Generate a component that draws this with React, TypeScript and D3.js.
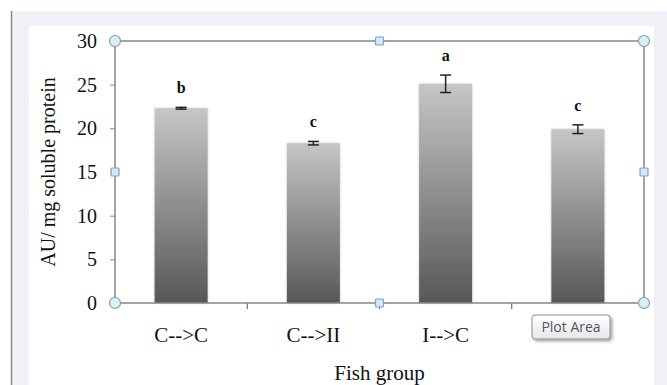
import React, { useEffect, useRef } from 'react';
import * as d3 from 'd3';

const groups = ['C-->C', 'C-->II', 'I-->C', 'C-->C '];
const labels = ['C-->C', 'C-->II', 'I-->C', ''];
const values = [22.3, 18.3, 25.1, 19.9];
const errors = [0.1, 0.2, 1.0, 0.5];
const letters = ['b', 'c', 'a', 'c'];
const yTicks = [0, 5, 10, 15, 20, 25, 30];

const App = () => {
  const ref = useRef<SVGSVGElement>(null);

  useEffect(() => {
    const svg = d3.select(ref.current);
    svg.selectAll('*').remove();
    const W = 667, H = 385;
    const m = { top: 41, right: 23, bottom: 82, left: 115 };
    const cw = W - m.left - m.right;
    const ch = H - m.top - m.bottom;
    const serif = 'Liberation Serif, Times New Roman, serif';

    svg.append('rect').attr('width', W).attr('height', H).attr('fill', '#fff');
    svg.append('rect').attr('x', 12).attr('y', 11).attr('width', W - 12).attr('height', H - 11).attr('fill', '#f0f1f7');
    svg.append('line').attr('x1', 11.5).attr('x2', 11.5).attr('y1', 11).attr('y2', H).attr('stroke', '#8a8a8a').attr('stroke-width', 1.5);
    svg.append('rect').attr('x', 29).attr('y', 26).attr('width', 625).attr('height', H - 26).attr('fill', '#fff');

    const defs = svg.append('defs');
    const grad = defs.append('linearGradient').attr('id', 'barGrad').attr('x1', 0).attr('x2', 0).attr('y1', 0).attr('y2', 1);
    grad.append('stop').attr('offset', '0%').attr('stop-color', '#c6c6c6');
    grad.append('stop').attr('offset', '100%').attr('stop-color', '#575757');
    const sh = defs.append('filter').attr('id', 'sh').attr('x', '-20%').attr('y', '-20%').attr('width', '140%').attr('height', '140%');
    sh.append('feDropShadow').attr('dx', 0).attr('dy', 0).attr('stdDeviation', 1.2).attr('flood-color', '#000').attr('flood-opacity', 0.25);
    const tipGrad = defs.append('linearGradient').attr('id', 'tipGrad').attr('x1', 0).attr('x2', 0).attr('y1', 0).attr('y2', 1);
    tipGrad.append('stop').attr('offset', '0%').attr('stop-color', '#ffffff');
    tipGrad.append('stop').attr('offset', '100%').attr('stop-color', '#e6e6ec');
    const tipSh = defs.append('filter').attr('id', 'tipSh').attr('x', '-20%').attr('y', '-30%').attr('width', '150%').attr('height', '180%');
    tipSh.append('feDropShadow').attr('dx', 2).attr('dy', 2).attr('stdDeviation', 1.5).attr('flood-color', '#000').attr('flood-opacity', 0.35);

    const xb = d3.scaleBand().domain(groups).range([0, cw]);
    const y = d3.scaleLinear().domain([0, 30]).range([ch, 0]);

    const g = svg.append('g').attr('transform', `translate(${m.left},${m.top})`);

    // bars
    g.selectAll('rect.bar').data(values).join('rect')
      .attr('class', 'bar')
      .attr('x', (d, i) => xb(groups[i])! + xb.bandwidth() / 2 - 26.5)
      .attr('width', 53)
      .attr('y', d => y(d))
      .attr('height', d => ch - y(d))
      .attr('fill', 'url(#barGrad)')
      .attr('filter', 'url(#sh)');

    // error bars + significance letters
    values.forEach((v, i) => {
      const cx = xb(groups[i])! + xb.bandwidth() / 2;
      const e = g.append('g').attr('stroke', '#222').attr('stroke-width', 1.5);
      e.append('line').attr('x1', cx).attr('x2', cx).attr('y1', y(v + errors[i])).attr('y2', y(v - errors[i]));
      e.append('line').attr('x1', cx - 5.5).attr('x2', cx + 5.5).attr('y1', y(v + errors[i])).attr('y2', y(v + errors[i]));
      e.append('line').attr('x1', cx - 5.5).attr('x2', cx + 5.5).attr('y1', y(v - errors[i])).attr('y2', y(v - errors[i]));
      g.append('text').attr('x', cx).attr('y', y(v + errors[i]) - 14)
        .attr('text-anchor', 'middle').attr('font-family', serif)
        .attr('font-weight', 'bold').attr('font-size', 16).attr('fill', '#111').text(letters[i]);
    });

    // axes
    const yAxis = g.append('g').call(d3.axisLeft(y).tickValues(yTicks).tickSize(5).tickPadding(13));
    yAxis.select('.domain').remove();
    yAxis.selectAll('line').attr('stroke', '#868686');
    yAxis.selectAll('text').attr('font-family', serif).attr('font-size', 20).attr('fill', '#111');

    [1, 2, 3].forEach(k => {
      g.append('line').attr('x1', k * xb.step()).attr('x2', k * xb.step()).attr('y1', ch).attr('y2', ch + 6).attr('stroke', '#555');
    });
    labels.forEach((l, i) => {
      g.append('text').attr('x', xb(groups[i])! + xb.bandwidth() / 2).attr('y', ch + 39)
        .attr('text-anchor', 'middle').attr('font-family', serif)
        .attr('font-size', 21).attr('fill', '#111').text(l);
    });

    // plot area frame
    g.append('rect').attr('width', cw).attr('height', ch).attr('fill', 'none').attr('stroke', '#868686').attr('stroke-width', 1.5);

    // titles
    svg.append('text').attr('x', m.left + cw / 2).attr('y', 380).attr('text-anchor', 'middle')
      .attr('font-family', serif).attr('font-size', 21).attr('fill', '#111').text('Fish group');
    svg.append('text').attr('transform', `translate(55,${m.top + ch / 2}) rotate(-90)`).attr('text-anchor', 'middle')
      .attr('font-family', serif).attr('font-size', 20).attr('fill', '#111').text('AU/ mg soluble protein');

    // selection handles
    const corners = [[0, 0], [cw, 0], [0, ch], [cw, ch]];
    g.selectAll('circle.h').data(corners).join('circle').attr('class', 'h')
      .attr('cx', d => d[0]).attr('cy', d => d[1]).attr('r', 5.5)
      .attr('fill', '#d9eff3').attr('stroke', '#8a9ea5').attr('stroke-width', 1.2);
    const mids = [[cw / 2, 0], [0, ch / 2], [cw, ch / 2], [cw / 2, ch]];
    g.selectAll('rect.h').data(mids).join('rect').attr('class', 'h')
      .attr('x', d => d[0] - 4).attr('y', d => d[1] - 4).attr('width', 8).attr('height', 8).attr('rx', 1)
      .attr('fill', '#d4e9f7').attr('stroke', '#7f9fc0').attr('stroke-width', 1.2);

    // tooltip
    const tip = svg.append('g').attr('transform', 'translate(532,315)');
    tip.append('rect').attr('width', 78).attr('height', 24).attr('rx', 3)
      .attr('fill', 'url(#tipGrad)').attr('stroke', '#8c8c8c').attr('filter', 'url(#tipSh)');
    tip.append('text').attr('x', 39).attr('y', 17).attr('text-anchor', 'middle')
      .attr('font-family', 'Open Sans, DejaVu Sans, sans-serif').attr('font-size', 14).attr('fill', '#555').text('Plot Area');
  }, []);

  return <svg ref={ref} width={667} height={385} style={{ position: 'absolute', left: 0, top: 0 }} />;
};

export default App;
